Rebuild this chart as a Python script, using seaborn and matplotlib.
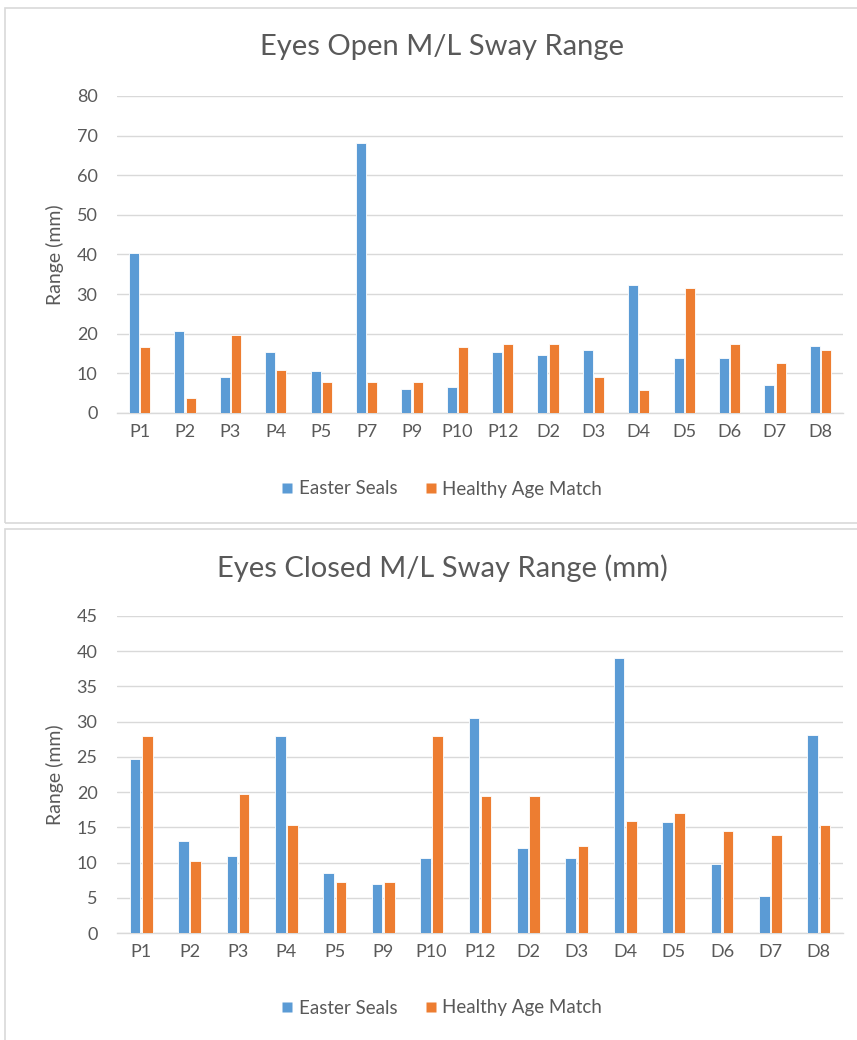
import matplotlib
matplotlib.use("Agg")
import matplotlib.pyplot as plt
from matplotlib.patches import Rectangle
from matplotlib.lines import Line2D
import seaborn as sns
import pandas as pd

# ---- data ----
open_categories = ["P1", "P2", "P3", "P4", "P5", "P7", "P9", "P10", "P12",
                   "D2", "D3", "D4", "D5", "D6", "D7", "D8"]
open_easter = [40.3, 20.6, 9.0, 15.4, 10.5, 68.1, 6.1, 6.6, 15.4,
               14.6, 15.8, 32.2, 13.8, 13.8, 7.0, 17.0]
open_healthy = [16.6, 3.8, 19.7, 10.9, 7.8, 7.8, 7.8, 16.6, 17.4,
                17.4, 9.0, 5.7, 31.5, 17.4, 12.6, 15.8]

closed_categories = ["P1", "P2", "P3", "P4", "P5", "P9", "P10", "P12",
                     "D2", "D3", "D4", "D5", "D6", "D7", "D8"]
closed_easter = [24.7, 13.0, 11.0, 27.9, 8.5, 6.9, 10.7, 30.5,
                 12.0, 10.7, 39.1, 15.7, 9.8, 5.3, 28.1]
closed_healthy = [27.9, 10.2, 19.8, 15.4, 7.3, 7.3, 27.9, 19.5,
                  19.5, 12.3, 15.9, 17.0, 14.5, 13.9, 15.4]

series_names = ["Easter Seals", "Healthy Age Match"]
open_title = "Eyes Open M/L Sway Range"
closed_title = "Eyes Closed M/L Sway Range (mm)"
ylabel = "Range (mm)"
open_yticks = [0, 10, 20, 30, 40, 50, 60, 70, 80]
closed_yticks = [0, 5, 10, 15, 20, 25, 30, 35, 40, 45]

# ---- style ----
BLUE = "#5B9BD5"
ORANGE = "#ED7D31"
GRID = "#D9D9D9"
TEXT = "#595959"
sns.set_style("white")
plt.rcParams["font.family"] = ["Lato", "DejaVu Sans"]

W, H = 857, 1040
fig = plt.figure(figsize=(W / 100, H / 100), dpi=100)


def px_rect(x0, y0, x1, y1):
    return [x0 / W, 1 - y1 / H, (x1 - x0) / W, (y1 - y0) / H]


# panel borders
for (y0, y1) in [(8, 523), (529, 1045)]:
    fig.patches.append(Rectangle((5 / W, 1 - y1 / H), (860 - 5) / W, (y1 - y0) / H,
                                 transform=fig.transFigure, fill=False,
                                 edgecolor=GRID, linewidth=1.2, zorder=0))

CENTER_X = 442 / W


def draw(rect, cats, s1, s2, yticks, title, title_y, legend_y):
    df = pd.DataFrame({
        "cat": cats * 2,
        "val": s1 + s2,
        "series": [series_names[0]] * len(cats) + [series_names[1]] * len(cats),
    })
    ax = fig.add_axes(px_rect(*rect))
    sns.barplot(data=df, x="cat", y="val", hue="series", order=cats,
                hue_order=series_names, palette=[BLUE, ORANGE], saturation=1,
                width=0.5, gap=0.12, ax=ax, legend=False, edgecolor="white",
                linewidth=0.6, zorder=3)
    ax.set_xlim(-0.5, len(cats) - 0.5)
    ax.set_ylim(yticks[0], yticks[-1])
    ax.set_yticks(yticks)
    ax.yaxis.grid(True, color=GRID, linewidth=1.0, zorder=0)
    ax.set_axisbelow(True)
    for s in ["top", "right", "left"]:
        ax.spines[s].set_visible(False)
    ax.spines["bottom"].set_color(GRID)
    ax.spines["bottom"].set_linewidth(1.0)
    ax.tick_params(axis="both", length=0, labelsize=13, labelcolor=TEXT)
    ax.tick_params(axis="y", pad=14)
    ax.tick_params(axis="x", pad=8)
    ax.set_xlabel("")
    ax.set_ylabel(ylabel, fontsize=14, color=TEXT, labelpad=9)
    fig.text(CENTER_X, 1 - title_y / H, title,
             ha="center", va="center", fontsize=21, color=TEXT)
    handles = [Line2D([], [], linestyle="none", marker="s", markersize=7,
                      markerfacecolor=c, markeredgecolor="none")
               for c in (BLUE, ORANGE)]
    fig.legend(handles, series_names, loc="center",
               bbox_to_anchor=(CENTER_X, 1 - legend_y / H),
               ncol=2, frameon=False, fontsize=13.5, labelcolor=TEXT,
               handlelength=0.6, handletextpad=0.3, columnspacing=1.5)
    return ax


draw((117, 96, 843, 413), open_categories, open_easter, open_healthy,
     open_yticks, open_title, 47, 489)
draw((117, 616, 843, 933), closed_categories, closed_easter, closed_healthy,
     closed_yticks, closed_title, 568, 1008)

fig.savefig("out.png", dpi=100)
